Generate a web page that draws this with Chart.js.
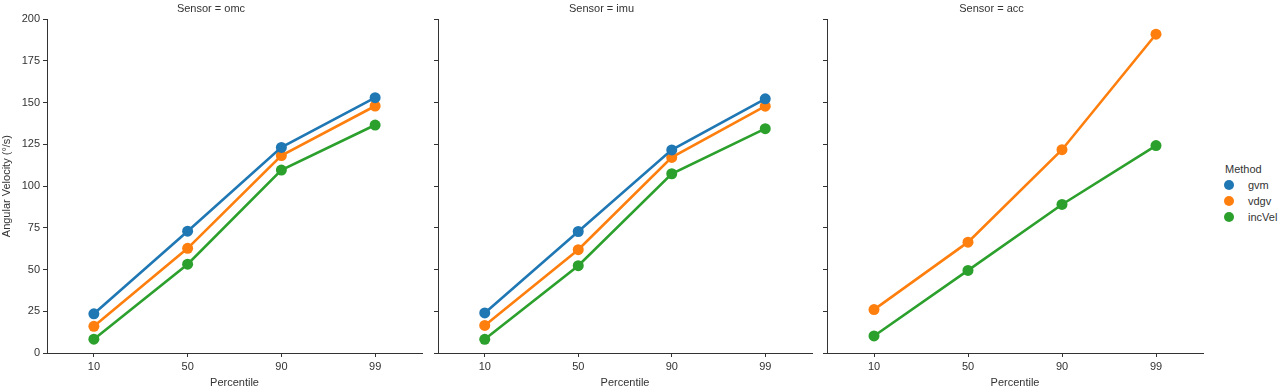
<!DOCTYPE html>
<html>
<head>
<meta charset="utf-8">
<script src="https://cdn.jsdelivr.net/npm/chart.js@4/dist/chart.umd.min.js"></script>
<style>
  body { margin: 0; background: #fff; width: 1280px; height: 390px; overflow: hidden; position: relative; font-family: "Liberation Sans", Arial, sans-serif; }
  .panel { position: absolute; top: 0; height: 390px; }
  #legend { position: absolute; left: 1221px; top: 163px; font-size: 11px; color: #333; }
  #legend .ttl { margin-left: 4px; margin-bottom: 2px; }
  #legend .row { display: flex; align-items: center; height: 16px; }
  #legend .dot { width: 10px; height: 10px; border-radius: 50%; margin-left: 3px; margin-right: 14px; }
</style>
</head>
<body>
<div class="panel" style="left:0;width:430px"><canvas id="omcChart"></canvas></div>
<div class="panel" style="left:391px;width:429px"><canvas id="imuChart"></canvas></div>
<div class="panel" style="left:780px;width:431px"><canvas id="accChart"></canvas></div>
<div id="legend">
  <div class="ttl">Method</div>
  <div class="row"><span class="dot" style="background:#1f77b4"></span>gvm</div>
  <div class="row"><span class="dot" style="background:#ff7f0e"></span>vdgv</div>
  <div class="row"><span class="dot" style="background:#2ca02c"></span>incVel</div>
</div>
<script>
// data
const percentiles = ['10', '50', '90', '99'];
const yTicks = [0, 25, 50, 75, 100, 125, 150, 175, 200];

const omcGvm = [23.5, 73, 123.2, 153];
const omcVdgv = [16, 62.7, 118.3, 148];
const omcIncVel = [8.3, 53.2, 109.6, 136.6];

const imuGvm = [24, 72.8, 121.7, 152.3];
const imuVdgv = [16.5, 61.9, 117.2, 147.9];
const imuIncVel = [8.2, 52.3, 107.4, 134.4];

const accGvm = [null, null, null, null];
const accVdgv = [26, 66.4, 121.8, 191];
const accIncVel = [10.2, 49.5, 89, 124.3];

const colors = { gvm: '#1f77b4', vdgv: '#ff7f0e', incVel: '#2ca02c' };
const font = { family: '"Liberation Sans", Arial, sans-serif', size: 11 };
const ink = '#333333';

function series(name, values) {
    return {
        label: name,
        data: values,
        borderColor: colors[name],
        backgroundColor: colors[name],
        borderWidth: 2.6,
        pointRadius: 5.5,
        pointHoverRadius: 5.5,
        pointBorderWidth: 0,
        spanGaps: false,
    };
}

function makePanel(id, title, gvm, vdgv, incVel, opts) {
    const ctx = document.getElementById(id).getContext('2d');
    new Chart(ctx, {
        type: 'line',
        data: {
            labels: percentiles,
            datasets: [series('gvm', gvm), series('vdgv', vdgv), series('incVel', incVel)]
        },
        options: {
            responsive: true,
            maintainAspectRatio: false,
            animation: false,
            layout: { padding: { left: 0, right: opts.right, top: 0, bottom: 0 } },
            plugins: {
                legend: { display: false },
                tooltip: { enabled: false },
                title: {
                    display: true,
                    text: title,
                    color: ink,
                    font: { ...font, weight: 'normal' },
                    padding: { top: 2, bottom: 4 }
                }
            },
            scales: {
                x: {
                    type: 'category',
                    offset: true,
                    border: { display: true, color: ink, width: 1 },
                    grid: { drawOnChartArea: false, drawTicks: true, tickLength: 4, color: ink },
                    ticks: { color: ink, font: font, padding: 3, maxRotation: 0 },
                    title: { display: true, text: 'Percentile', color: ink, font: font, padding: { top: 0, bottom: 0 } },
                    afterFit: (scale) => { scale.height = 37; }
                },
                y: {
                    min: 0,
                    max: 200,
                    afterBuildTicks: (scale) => { scale.ticks = yTicks.map(v => ({ value: v })); },
                    border: { display: true, color: ink, width: 1 },
                    grid: { drawOnChartArea: false, drawTicks: true, tickLength: 4, color: ink },
                    ticks: { color: opts.showY ? ink : 'rgba(0,0,0,0)', font: font, padding: 3 },
                    title: {
                        display: opts.showY,
                        text: 'Angular Velocity (°/s)',
                        color: ink,
                        font: font,
                        padding: { top: 0, bottom: 0 }
                    },
                    afterFit: (scale) => { scale.width = opts.axisWidth; }
                }
            }
        }
    });
}

makePanel('omcChart', 'Sensor = omc', omcGvm, omcVdgv, omcIncVel, { showY: true, axisWidth: 47, right: 8 });
makePanel('imuChart', 'Sensor = imu', imuGvm, imuVdgv, imuIncVel, { showY: false, axisWidth: 47, right: 8 });
makePanel('accChart', 'Sensor = acc', accGvm, accVdgv, accIncVel, { showY: false, axisWidth: 47, right: 8 });
</script>
</body>
</html>
